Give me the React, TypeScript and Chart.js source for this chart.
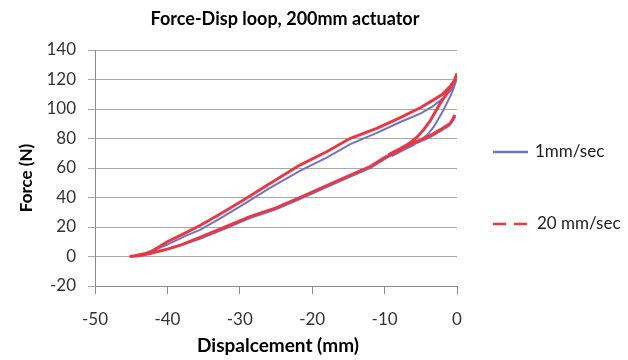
import React, { useEffect, useRef } from "react";
import { Chart, registerables } from "chart.js";

Chart.register(...registerables);

const titleText = "Force-Disp loop, 200mm actuator";
const xAxisTitle = "Dispalcement (mm)";
const yAxisTitle = "Force (N)";
const seriesNames = ["1mm/sec", "20 mm/sec"];

// 1 mm/sec series (displacement mm, force N)
const slowDisp = [
  -0.2, -0.6, -1.0, -2.3, -3.7, -5.0, -6.5, -7.9, -10.0, -12.0, -14.8, -18.0, -21.7, -25.0, -28.6, -32.0, -35.5, -38.0, -40.0, -42.4, -44.0, -45.2,
  -44.5, -43.0, -40.0, -37.5, -35.5, -33.0, -29.6, -26.0, -21.7, -18.0, -14.8, -11.0, -7.9, -5.0, -3.3, -2.0, -1.0, -0.3, 0.0,
  -0.4, -0.8, -1.4, -1.9, -2.6, -3.2, -4.0, -5.0, -6.2, -7.5, -9.0,
];
const slowForce = [
  95, 92, 89, 85, 81, 78, 75, 72, 66, 60, 54, 47, 39, 32, 26, 19, 12, 8, 5, 2, 0.5, 0,
  0.5, 2, 8, 14, 18, 25, 35, 46, 58, 67, 76, 84, 91, 97, 102, 107, 112, 117, 121,
  115, 110, 104, 99, 93, 88, 83, 79, 75, 72, 68,
];

// 20 mm/sec series
const fastDisp = [
  -0.3, -0.7, -1.0, -2.3, -3.7, -5.0, -6.5, -7.9, -10.0, -12.0, -14.8, -18.0, -21.7, -25.0, -28.6, -32.0, -35.5, -38.0, -40.0, -42.4, -44.0, -45.2,
  -44.5, -43.0, -42.0, -40.0, -37.5, -35.5, -33.0, -29.6, -26.0, -21.7, -18.0, -14.8, -11.0, -7.9, -5.0, -3.3, -2.0, -1.0, -0.4, 0.0,
  -0.5, -1.0, -1.6, -2.3, -3.0, -3.7, -4.6, -5.5, -6.5, -7.9, -9.5,
];
const fastForce = [
  96, 92, 90, 86, 82, 79, 76, 72, 67, 61, 55, 48, 40, 33, 27, 20, 13, 8, 5, 2, 0.5, 0,
  0.5, 2, 4, 10, 16, 21, 28, 38, 49, 62, 71, 80, 87, 94, 101, 106, 110, 115, 119, 124,
  118, 114, 109, 104, 98, 92, 86, 81, 77, 73, 69,
];

const xTicks = [-50, -40, -30, -20, -10, 0];
const yTicks = [-20, 0, 20, 40, 60, 80, 100, 120, 140];

const slowColor = "#7474bc";
const fastColor = "#e33a46";

const textPlugin = {
  id: "textPlugin",
  afterDraw(chart: any) {
    const ctx = chart.ctx;
    const area = chart.chartArea;
    ctx.save();
    ctx.fillStyle = "#000";
    ctx.textBaseline = "middle";
    // title
    ctx.font = "bold 18px Lato";
    ctx.textAlign = "center";
    ctx.fillText(titleText, 285, 19);
    // x axis title
    ctx.font = "bold 19px Lato";
    ctx.fillText(xAxisTitle, (area.left + area.right) / 2 + 2, 346);
    // y axis title
    ctx.font = "bold 17px Lato";
    ctx.save();
    ctx.translate(27, 178);
    ctx.rotate(-Math.PI / 2);
    ctx.fillText(yAxisTitle, 0, 0);
    ctx.restore();
    // legend
    ctx.font = "17px Lato";
    ctx.textAlign = "left";
    ctx.fillStyle = "#222";
    ctx.lineWidth = 2.5;
    ctx.strokeStyle = slowColor;
    ctx.beginPath();
    ctx.moveTo(493, 152);
    ctx.lineTo(528, 152);
    ctx.stroke();
    ctx.fillText(seriesNames[0], 535, 152);
    ctx.strokeStyle = fastColor;
    ctx.setLineDash([13, 8]);
    ctx.beginPath();
    ctx.moveTo(493, 224);
    ctx.lineTo(530, 224);
    ctx.stroke();
    ctx.setLineDash([]);
    ctx.fillText(seriesNames[1], 537, 224);
    ctx.restore();
  },
};

export default function App() {
  const ref = useRef<HTMLCanvasElement | null>(null);
  useEffect(() => {
    if (!ref.current) return;
    const chart = new Chart(ref.current, {
      type: "scatter",
      data: {
        datasets: [
          {
            label: seriesNames[0],
            data: slowDisp.map((x, i) => ({ x, y: slowForce[i] })),
            showLine: true,
            borderColor: slowColor,
            backgroundColor: slowColor,
            borderWidth: 2,
            pointRadius: 0,
            order: 1,
          },
          {
            label: seriesNames[1],
            data: fastDisp.map((x, i) => ({ x, y: fastForce[i] })),
            showLine: true,
            borderColor: fastColor,
            backgroundColor: fastColor,
            borderWidth: 3,
            pointRadius: 0,
            order: 0,
          },
        ],
      },
      options: {
        animation: false,
        responsive: true,
        maintainAspectRatio: false,
        layout: { padding: { left: 0, right: 171, top: 50, bottom: 0 } },
        plugins: {
          legend: { display: false },
          title: { display: false },
          tooltip: { enabled: false },
        },
        scales: {
          x: {
            type: "linear",
            min: xTicks[0],
            max: xTicks[xTicks.length - 1],
            afterBuildTicks: (scale: any) => {
              scale.ticks = xTicks.map((v) => ({ value: v }));
            },
            afterFit: (scale: any) => {
              scale.height = 74;
            },
            grid: {
              drawOnChartArea: false,
              drawTicks: true,
              tickLength: 8,
              color: "#8c8c8c",
            },
            border: { color: "#8c8c8c" },
            ticks: {
              padding: 15,
              color: "#333",
              font: { family: "Lato", size: 17 },
            },
          },
          y: {
            type: "linear",
            min: yTicks[0],
            max: yTicks[yTicks.length - 1],
            afterBuildTicks: (scale: any) => {
              scale.ticks = yTicks.map((v) => ({ value: v }));
            },
            afterFit: (scale: any) => {
              scale.width = 95;
            },
            grid: {
              drawTicks: true,
              tickLength: 7,
              color: "#a8a8a8",
            },
            border: { color: "#8c8c8c" },
            ticks: {
              padding: 12,
              color: "#333",
              font: { family: "Lato", size: 17 },
            },
          },
        },
      },
      plugins: [textPlugin],
    });
    return () => chart.destroy();
  }, []);
  return (
    <div style={{ position: "fixed", left: 0, top: 0, width: 628, height: 360, background: "#fff" }}>
      <canvas ref={ref} />
    </div>
  );
}
